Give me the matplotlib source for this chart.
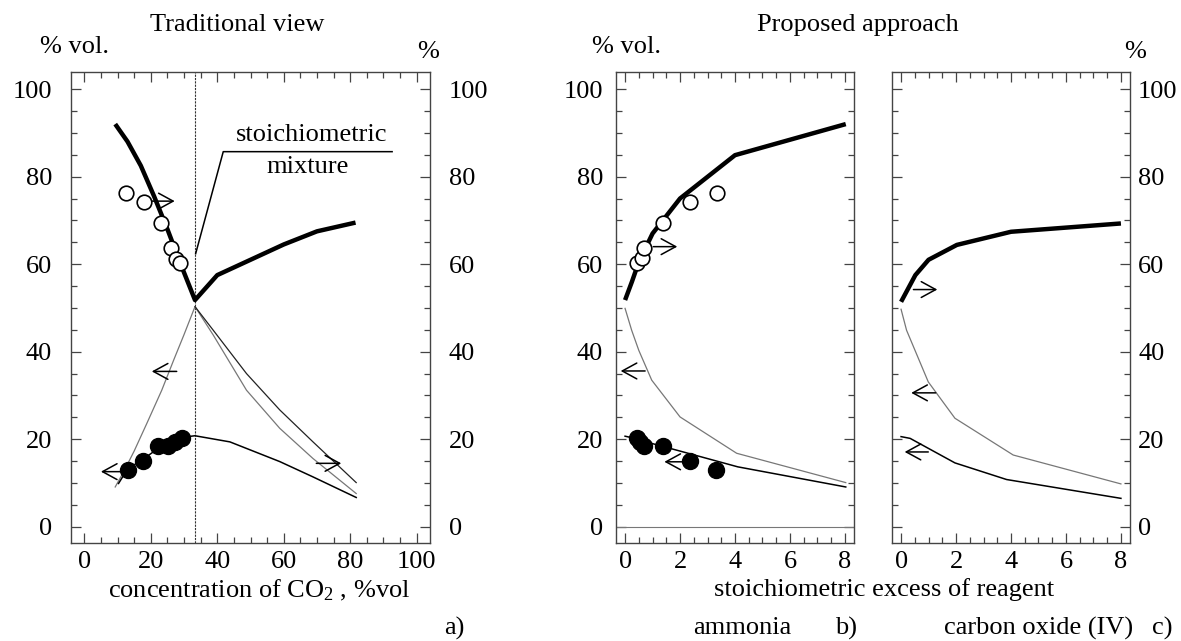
import matplotlib
matplotlib.use('Agg')
import matplotlib.pyplot as plt
from matplotlib.ticker import MultipleLocator

plt.rcParams['font.family'] = ['Liberation Serif', 'DejaVu Serif']
plt.rcParams['mathtext.fontset'] = 'custom'
plt.rcParams['mathtext.rm'] = 'Liberation Serif'
plt.rcParams['mathtext.it'] = 'Liberation Serif:italic'
plt.rcParams['font.size'] = 19

# ---- a) traditional view, x = CO2 concentration, %vol
a_stoich = 33.3
a_yield_x = [9.3, 13, 17, 21, 25, 29, 33.3, 40, 50, 60, 70, 81.6]
a_yield_y = [92, 88, 82.5, 75.5, 68, 60, 51.8, 57.5, 61, 64.5, 67.5, 69.5]
a_open_x = [12.6, 17.9, 23.0, 26.1, 27.5, 28.8]
a_open_y = [76.2, 74.3, 69.3, 63.6, 61.1, 60.2]
a_fill_x = [13.0, 17.6, 22.3, 25.3, 27.3, 29.3]
a_fill_y = [13.0, 15.0, 18.4, 18.4, 19.4, 20.2]
# thin curves
a_gray_x = [9.3, 12, 15, 18.8, 23.3, 27, 30, 33.3, 38.8, 48.8, 58.8, 68.8, 81.8]
a_gray_y = [9.1, 12.8, 17.3, 23.6, 31.2, 38.3, 43.9, 50.3, 43.8, 31.2, 22.5, 15.6, 7.6]
a_dark_x = [33.3, 38.8, 48.8, 58.8, 68.8, 81.8]
a_dark_y = [50.3, 44.9, 35.0, 26.7, 19.4, 10.1]
a_low_x = [10.3, 13, 18, 22, 26, 30, 33.3, 43.8, 58.8, 68.8, 81.8]
a_low_y = [9.9, 13.2, 15.6, 17.8, 19.2, 20.5, 20.8, 19.4, 14.9, 11.4, 6.7]
# arrows (tail x, head x, y)
a_arrows = [(20.3, 27.2, 74.4), (27.8, 20.3, 35.5), (10.8, 5.0, 12.6), (69.8, 77.3, 14.5)]

# ---- b) ammonia, x = stoichiometric excess
b_yield_x = [0, 0.25, 0.5, 1, 2, 4, 8.03]
b_yield_y = [51.8, 56, 60.5, 67, 75, 84.9, 92]
b_open_x = [0.45, 0.6, 0.70, 1.37, 2.36, 3.33]
b_open_y = [60.3, 61.5, 63.6, 69.5, 74.3, 76.2]
b_fill_x = [0.42, 0.55, 0.70, 1.37, 2.36, 3.31]
b_fill_y = [20.2, 19.4, 18.4, 18.4, 15.0, 13.0]
b_gray_x = [0, 0.24, 0.5, 0.97, 2, 4.06, 8.03]
b_gray_y = [49.9, 44.9, 40.3, 33.5, 25.1, 16.8, 10.1]
b_dark_x = [0, 0.5, 1, 2, 4.1, 8.03]
b_dark_y = [20.7, 20.0, 19.0, 17.3, 13.7, 9.1]
b_arrows = [(1.03, 1.9, 64.0), (0.73, -0.16, 35.6), (2.3, 1.43, 14.85)]

# ---- c) carbon oxide (IV)
c_yield_x = [0, 0.52, 1.0, 2.03, 4.0, 8.0]
c_yield_y = [51.4, 57.5, 61, 64.4, 67.4, 69.3]
c_gray_x = [0, 0.2, 0.99, 1.96, 4.08, 8.0]
c_gray_y = [49.7, 44.9, 33.1, 24.8, 16.4, 9.8]
c_dark_x = [0, 0.33, 1.96, 3.84, 8.0]
c_dark_y = [20.6, 20.2, 14.6, 10.8, 6.5]
c_arrows = [(0.45, 1.32, 54.2), (1.26, 0.37, 30.6), (0.99, 0.13, 17.1)]

W, H = 1181, 641
fig = plt.figure(figsize=(W / 100, H / 100), dpi=100)

def px_box(x0, x1, y0, y1):
    return [x0 / W, 1 - y1 / H, (x1 - x0) / W, (y1 - y0) / H]

ax_a = fig.add_axes(px_box(71, 430, 72, 543))
ax_b = fig.add_axes(px_box(616, 854, 72, 543))
ax_c = fig.add_axes(px_box(892, 1130, 72, 543))

frame_col = '#444444'
gray_col = '#777777'

def style(ax, xlim, xmaj, xmin, left_lab, right_lab, pad):
    ax.set_xlim(*xlim)
    ax.set_ylim(-3.7, 103.9)
    ax.xaxis.set_major_locator(MultipleLocator(xmaj))
    ax.xaxis.set_minor_locator(MultipleLocator(xmin))
    ax.yaxis.set_major_locator(MultipleLocator(20))
    ax.yaxis.set_minor_locator(MultipleLocator(5))
    ax.tick_params(which='both', direction='in', top=True, right=True,
                   color=frame_col, width=0.9)
    ax.tick_params(which='major', length=7)
    ax.tick_params(which='minor', length=4)
    ax.tick_params(axis='x', pad=6)
    ax.tick_params(axis='y', labelleft=left_lab, labelright=right_lab, pad=pad)
    for s in ax.spines.values():
        s.set_color(frame_col)
        s.set_linewidth(1.0)

def arrows(ax, lst):
    for x0, x1, y in lst:
        ax.annotate('', xy=(x1, y), xytext=(x0, y),
                    arrowprops=dict(arrowstyle='->,head_length=0.55,head_width=0.3',
                                    lw=1.1, color='black', shrinkA=0, shrinkB=0))

# panel a
style(ax_a, (-4, 104), 20, 5, True, True, 13.5)
ax_a.axvline(a_stoich, color='#333333', lw=0.8, ls=(0, (2, 1)))
ax_a.plot(a_gray_x, a_gray_y, color=gray_col, lw=0.9)
ax_a.plot(a_dark_x, a_dark_y, color='#222222', lw=0.9)
ax_a.plot(a_low_x, a_low_y, color='black', lw=1.1)
ax_a.plot(a_yield_x, a_yield_y, color='black', lw=3.2, solid_capstyle='butt')
ax_a.plot(a_open_x, a_open_y, 'o', ms=10.5, mfc='white', mec='black', mew=1.2)
ax_a.plot(a_fill_x, a_fill_y, 'o', ms=11.5, color='black')
arrows(ax_a, a_arrows)
ax_a.plot([33.5, 41.8, 92.6], [62.4, 85.7, 85.7], color='black', lw=1.1)
ax_a.text(68.4, 89.5, 'stoichiometric', ha='center', va='center')
ax_a.text(67.2, 82.3, 'mixture', ha='center', va='center')

# panel b
style(ax_b, (-0.33, 8.33), 2, 0.5, True, False, 9.4)
ax_b.axhline(0, color=gray_col, lw=0.8)
ax_b.plot(b_gray_x, b_gray_y, color=gray_col, lw=0.9)
ax_b.plot(b_dark_x, b_dark_y, color='black', lw=1.1)
ax_b.plot(b_yield_x, b_yield_y, color='black', lw=3.2, solid_capstyle='butt')
ax_b.plot(b_open_x, b_open_y, 'o', ms=10.5, mfc='white', mec='black', mew=1.2)
ax_b.plot(b_fill_x, b_fill_y, 'o', ms=11.5, color='black')
arrows(ax_b, b_arrows)

# panel c
style(ax_c, (-0.33, 8.33), 2, 0.5, False, True, 5.8)
ax_c.plot(c_gray_x, c_gray_y, color=gray_col, lw=0.9)
ax_c.plot(c_dark_x, c_dark_y, color='black', lw=1.1)
ax_c.plot(c_yield_x, c_yield_y, color='black', lw=3.2, solid_capstyle='butt')
arrows(ax_c, c_arrows)

def ftext(x, y, s, **kw):
    fig.text(x / W, 1 - y / H, s, ha='center', va='center', **kw)

ftext(237, 25, 'Traditional view')
ftext(74, 47, '% vol.')
ftext(428, 52, '%')
ftext(858, 25, 'Proposed approach')
ftext(627, 47, '% vol.')
ftext(1135, 52, '%')
ftext(259, 590, 'concentration of CO$_2$ , %vol')
ftext(884, 590, 'stoichiometric excess of reagent')
ftext(454, 628, 'a)')
ftext(742, 628, 'ammonia')
ftext(846, 628, 'b)')
ftext(1039, 628, 'carbon oxide (IV)')
ftext(1162, 628, 'c)')

fig.savefig('out.png', dpi=100)
